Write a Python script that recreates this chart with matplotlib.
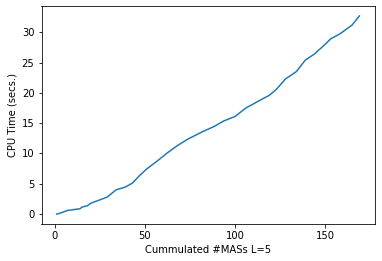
import matplotlib
matplotlib.use("Agg")
import matplotlib.pyplot as plt

num_mas = [1, 3, 7, 14, 15, 18, 20, 24, 29, 34, 39, 43, 47, 51, 57, 62, 68, 74, 82, 88,
           94, 100, 106, 114, 119, 123, 128, 134, 139, 144, 150, 153, 158, 165, 169]
cpu_time = [0.0, 0.16, 0.6, 0.88, 1.15, 1.37, 1.8, 2.24, 2.8, 4.0, 4.45, 5.1, 6.35, 7.45,
            8.8, 10.0, 11.3, 12.4, 13.6, 14.4, 15.4, 16.1, 17.5, 18.8, 19.6, 20.6, 22.3,
            23.5, 25.4, 26.4, 28.0, 28.9, 29.7, 31.2, 32.7]
x_ticks = [0, 50, 100, 150]

fig = plt.figure(figsize=(382 / 72, 261 / 72), dpi=72)
ax = fig.add_axes([41.5 / 382, 37 / 261, (374.5 - 41.5) / 382, (224 - 6) / 261])
ax.plot(num_mas, cpu_time, color="#1f77b4", linewidth=1.5)
ax.set_xticks(x_ticks)
ax.set_xlabel("Cummulated #MASs L=5", fontsize=10)
ax.set_ylabel("CPU Time (secs.)", fontsize=10)
ax.tick_params(labelsize=10)
fig.savefig("out.png", dpi=72)
